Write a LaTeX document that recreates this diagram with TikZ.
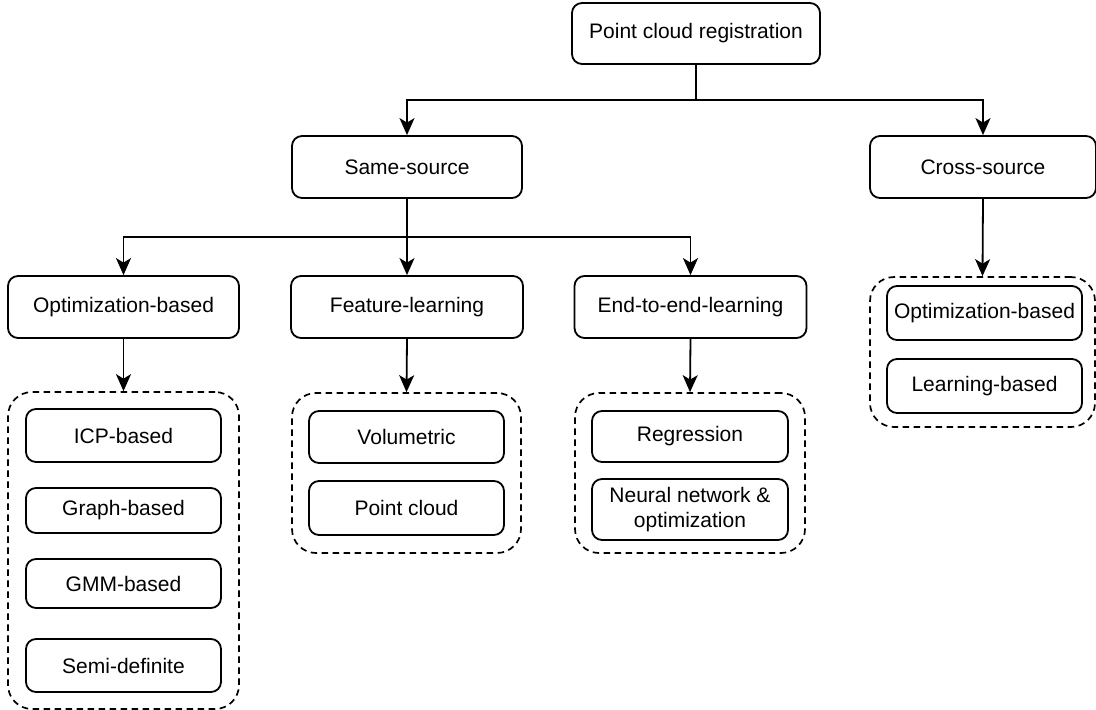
\documentclass[tikz,border=0pt]{standalone}
\usepackage{fontspec}
\setmainfont{Liberation Sans}
\usetikzlibrary{arrows.meta}
\begin{document}
\begin{tikzpicture}[x=1pt,y=-1pt,
  box/.style={draw=black,line width=1.8pt,rounded corners=10pt,fill=white,
    inner sep=0pt,align=center,font=\fontsize{21}{25}\selectfont},
  grp/.style={draw=black,line width=1.7pt,rounded corners=24pt,
    dash pattern=on 6.5pt off 4.5pt,inner sep=0pt},
  arr/.style={line width=1.8pt,-{Stealth[length=17pt,width=15pt,inset=4.5pt]}},
  ln/.style={line width=1.8pt}]
\useasboundingbox (0,0) rectangle (1096,710);
% groups
\node[grp,minimum width=231pt,minimum height=317pt] (d1) at (123.5,550.5) {};
\node[grp,minimum width=229pt,minimum height=160pt] (d2) at (406.5,473) {};
\node[grp,minimum width=230pt,minimum height=160pt] (d3) at (690,473) {};
\node[grp,minimum width=225pt,minimum height=150pt] (d4) at (982.5,352) {};
% main nodes
\node[box,minimum width=248pt,minimum height=61pt] (root) at (696,33.5) {Point cloud registration};
\node[box,minimum width=230pt,minimum height=62pt] (same) at (407,167) {Same-source};
\node[box,minimum width=226pt,minimum height=62pt] (cross) at (983,167) {Cross-source};
\node[box,minimum width=231pt,minimum height=62pt] (opt) at (123.5,307) {Optimization-based};
\node[box,minimum width=232pt,minimum height=62pt] (feat) at (407,307) {Feature-learning};
\node[box,minimum width=232pt,minimum height=62pt] (e2e) at (690.5,307) {End-to-end-learning};
% inner nodes
\node[box,minimum width=195pt,minimum height=53pt] (icp) at (123.5,435.5) {ICP-based};
\node[box,minimum width=195pt,minimum height=45pt] (graph) at (123.5,510.5) {Graph-based};
\node[box,minimum width=195pt,minimum height=49pt] (gmm) at (123.5,583.5) {GMM-based};
\node[box,minimum width=195pt,minimum height=53pt] (semi) at (123.5,665.5) {Semi-definite};
\node[box,minimum width=195pt,minimum height=52pt] (vol) at (406.5,437) {Volumetric};
\node[box,minimum width=195pt,minimum height=54pt] (pc) at (406.5,508) {Point cloud};
\node[box,minimum width=196pt,minimum height=51pt] (reg) at (690,436.5) {Regression};
\node[box,minimum width=196pt,minimum height=61pt] (nn) at (690,509.5) {Neural network \&\\optimization};
\node[box,minimum width=195pt,minimum height=54pt] (copt) at (984.5,313) {Optimization-based};
\node[box,minimum width=195pt,minimum height=54pt] (learn) at (984.5,386) {Learning-based};
% connectors
\coordinate (b1) at (696,100);
\coordinate (b2) at (407,237);
\draw[ln] (root.south) -- (b1);
\draw[arr] (b1) -| (same.north);
\draw[arr] (b1) -| (cross.north);
\draw[ln] (same.south) -- (b2);
\draw[arr] (b2) -| (opt.north);
\draw[arr] (b2) -- (feat.north);
\draw[arr] (b2) -| (e2e.north);
\draw[arr] (opt.south) -- (d1.north);
\draw[arr] (feat.south) -- (d2.north);
\draw[arr] (e2e.south) -- (d3.north);
\draw[arr] (cross.south) -- (d4.north);
\end{tikzpicture}
\end{document}
